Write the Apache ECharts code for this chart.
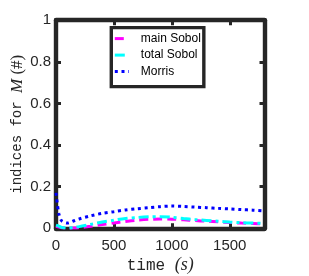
<!DOCTYPE html>
<html><head><meta charset="utf-8">
<script src="https://cdn.jsdelivr.net/npm/echarts@6/dist/echarts.min.js"></script>
<style>html,body{margin:0;padding:0;background:#fff}#c{width:309px;height:276px}</style>
</head><body><div id="c"></div>
<script>
const time = [0, 25, 50, 100, 150, 200, 300, 400, 500, 600, 700, 800, 900, 1000, 1100, 1200, 1300, 1400, 1500, 1600, 1700, 1800];
const mainSobol = [0.010, 0.006, 0.003, 0.000, 0.001, 0.003, 0.010, 0.018, 0.026, 0.033, 0.039, 0.043, 0.045, 0.044, 0.041, 0.037, 0.034, 0.031, 0.028, 0.025, 0.023, 0.021];
const totalSobol = [0.015, 0.010, 0.004, 0.001, 0.004, 0.008, 0.019, 0.030, 0.039, 0.047, 0.052, 0.055, 0.056, 0.053, 0.047, 0.042, 0.038, 0.034, 0.030, 0.027, 0.025, 0.023];
const morris = [0.170, 0.070, 0.035, 0.025, 0.035, 0.045, 0.060, 0.072, 0.080, 0.088, 0.094, 0.099, 0.104, 0.107, 0.105, 0.102, 0.099, 0.096, 0.093, 0.090, 0.087, 0.083];
const seriesNames = ['main Sobol', 'total Sobol', 'Morris'];
const xTicks = [0, 500, 1000, 1500];
const yTicks = [0, 0.2, 0.4, 0.6, 0.8, 1];

const pair = (xs, ys) => xs.map((x, i) => [x, ys[i]]);
const AX = '#262626';
const colors = ['#ff00ff', '#00ffff', '#0000ff'];
const dashes = [[9, 5], [10, 4, 3, 4], [3, 3.7]];
const chart = echarts.init(document.getElementById('c'), null, {renderer: 'canvas'});
const axisCommon = {
  axisLine: {show: true, onZero: false, lineStyle: {color: AX, width: 4.4}},
  axisTick: {show: true, inside: true, length: 5, lineStyle: {color: AX, width: 3}},
  splitLine: {show: false},
  nameMoveOverlap: false
};
chart.setOption({
  animation: false,
  grid: {left: 56, right: 44.5, top: 20.2, bottom: 47.7, containLabel: false, outerBoundsMode: 'none'},
  legend: {
    orient: 'vertical', left: 111.3, top: 27.6,
    data: seriesNames.map((n, i) => ({
      name: n,
      itemStyle: {color: 'rgba(0,0,0,0)', borderWidth: 0, opacity: 0},
      lineStyle: {color: colors[i], width: 3, type: dashes[i], opacity: 1}
    })),
    itemWidth: 14, itemHeight: 12, itemGap: 4.5,
    padding: [5, 3, 9, 2],
    borderColor: AX, borderWidth: 3.4, backgroundColor: '#fff',
    textStyle: {fontFamily: 'Liberation Sans', fontSize: 12, color: '#000', padding: [0, 0, 0, 7]}
  },
  xAxis: [
    Object.assign({}, axisCommon, {
      type: 'value', min: 0, max: 1800, interval: 500, position: 'bottom',
      axisLabel: {show: true, showMaxLabel: false, margin: 10, fontFamily: 'Liberation Sans', fontSize: 15, color: AX,
        formatter: v => xTicks.includes(v) ? String(v) : ''},
      name: '{m|time }{s|(s)}', nameLocation: 'middle', nameGap: 28,
      nameTextStyle: {rich: {
        m: {fontFamily: 'Liberation Mono', fontSize: 16, color: AX},
        s: {fontFamily: 'Liberation Serif', fontStyle: 'italic', fontSize: 18, color: AX}
      }}
    }),
    Object.assign({}, axisCommon, {
      type: 'value', min: 0, max: 1800, interval: 500, position: 'top',
      axisLabel: {show: false}
    })
  ],
  yAxis: [
    Object.assign({}, axisCommon, {
      type: 'value', min: 0, max: 1, interval: 0.2, position: 'left',
      axisLabel: {show: true, margin: 5, fontFamily: 'Liberation Sans', fontSize: 15, color: AX,
        formatter: v => { const t = yTicks.find(y => Math.abs(y - v) < 1e-9); return t === undefined ? '' : String(t); }},
      name: '{m|indices for }{i|M}{r| (#)}', nameLocation: 'middle', nameGap: 30,
      nameTextStyle: {rich: {
        m: {fontFamily: 'Liberation Mono', fontSize: 14, color: AX},
        i: {fontFamily: 'Liberation Serif', fontStyle: 'italic', fontSize: 17, color: AX},
        r: {fontFamily: 'Liberation Serif', fontSize: 17, color: AX}
      }}
    }),
    Object.assign({}, axisCommon, {
      type: 'value', min: 0, max: 1, interval: 0.2, position: 'right',
      axisLabel: {show: false}
    })
  ],
  series: [mainSobol, totalSobol, morris].map((vals, i) => ({
    name: seriesNames[i], type: 'line', data: pair(time, vals), smooth: 0.3, symbol: 'none', z: 3 + i,
    itemStyle: {color: colors[i]}, lineStyle: {color: colors[i], width: 3, type: dashes[i]}
  }))
});
</script></body></html>
